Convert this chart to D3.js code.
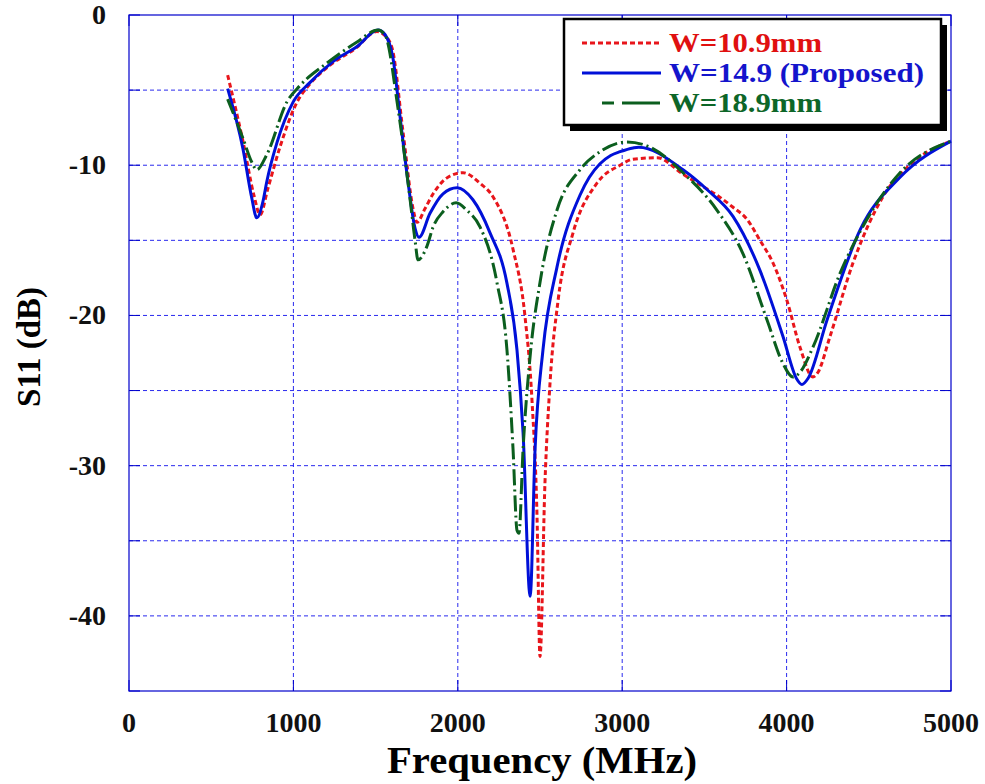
<!DOCTYPE html>
<html lang="en">
<head>
	<meta charset="UTF-8">
	<title>S11 vs Frequency</title>
	<style>
		body {
			margin: 0;
			background: #fff;
		}
		svg {
			display: block;
			font-family: "Liberation Serif", "Times New Roman", serif;
			font-weight: bold;
		}
		.grid line {
			stroke: #2a2aee;
			stroke-width: 1;
			stroke-dasharray: 4,3;
		}
		.tick-label {
			font-size: 28px;
			fill: #111;
		}
	</style>
</head>
<body>
	<svg></svg>
</body>
<script src="https://cdnjs.cloudflare.com/ajax/libs/d3/7.8.5/d3.min.js"></script>
<script>
	const width = 985,
		height = 784;
	const margin = {left: 129, right: 34, top: 15, bottom: 93};

	// tick values
	const xTicks = [0, 1000, 2000, 3000, 4000, 5000];
	const yTicks = [0, -10, -20, -30, -40];
	const yGrid = [0, -5, -10, -15, -20, -25, -30, -35, -40, -45];

	// W=10.9mm
	const redFreq = [600, 693, 760, 797, 846, 918, 1022, 1100, 1204, 1380, 1508, 1550, 1600, 1667, 1728, 1752, 1800,
		1850, 1940, 2032, 2135, 2214, 2336, 2409, 2451, 2482, 2500, 2530, 2561, 2610, 2701, 2846, 2987, 3066, 3212,
		3370, 3473, 3577, 3674, 3759, 3838, 3917, 4002, 4081, 4160, 4190, 4264, 4404, 4586, 4793, 5000];
	const redS11 = [-4.0, -8.4, -12.0, -13.3, -11.5, -8.8, -5.8, -4.6, -3.5, -2.2, -1.1, -1.3, -2.2, -7.8, -12.9, -13.8, -12.9,
		-11.9, -10.8, -10.5, -11.2, -12.1, -15.6, -20.1, -25.6, -33.4, -42.7, -31.2, -24.5, -19.0, -14.5, -11.2, -10.0, -9.6, -9.5,
		-10.6, -11.3, -12.0, -12.8, -13.6, -15.0, -16.5, -19.0, -22.1, -24.1, -23.8, -21.4, -16.5, -12.1, -9.6, -8.4];

	// W=14.9 (Proposed)
	const blueFreq = [600, 693, 747, 777, 815, 838, 900, 998, 1100, 1241, 1387, 1515, 1557, 1606, 1648, 1697, 1740, 1764,
		1831, 1910, 1995, 2092, 2196, 2298, 2360, 2397, 2440, 2470, 2518, 2603, 2743, 2800, 2865, 2930, 2987, 3066, 3100, 3370,
		3514, 3674, 3838, 3978, 4060, 4093, 4130, 4246, 4447, 4690, 5000];
	const blueS11 = [-4.9, -8.9, -12.2, -13.5, -12.4, -11.1, -8.5, -5.8, -4.5, -3.1, -2.1, -1.0, -1.3, -2.9, -6.7, -11.1, -14.2, -14.8,
		-13.2, -11.9, -11.5, -12.3, -14.5, -17.8, -22.3, -27.8, -38.7, -28.9, -22.3, -16.8, -12.0, -10.8, -9.9, -9.35, -9.1, -8.85, -8.8, -10.3,
		-11.6, -13.4, -17.0, -21.4, -24.2, -24.6, -24.2, -20.3, -14.3, -10.8, -8.4];

	// W=18.9mm
	const greenFreq = [600, 693, 747, 777, 838, 960, 1040, 1204, 1387, 1515, 1560, 1636, 1709, 1740, 1758, 1812,
		1850, 1910, 1990, 2055, 2135, 2238, 2299, 2336, 2360, 2372, 2397, 2440, 2500, 2603, 2743, 2865, 3029, 3169,
		3370, 3577, 3735, 3881, 3978, 4039, 4080, 4161, 4325, 4489, 4690, 5000];
	const greenS11 = [-5.6, -8.2, -9.8, -10.3, -9.3, -5.8, -4.7, -3.2, -1.8, -1.0, -1.4, -6.2, -12.2, -15.0, -16.3, -15.4,
		-14.1, -13.1, -12.5, -13.0, -14.1, -17.8, -22.3, -28.9, -34.3, -34.5, -28.9, -22.7, -17.8, -13.0, -10.3, -9.1, -8.45, -8.8,
		-10.5, -13.0, -15.9, -20.3, -23.2, -24.1, -23.8, -22.1, -17.2, -13.6, -10.5, -8.4];

	const seriesNames = ['W=10.9mm', 'W=14.9 (Proposed)', 'W=18.9mm'];

	const series = [
		{name: seriesNames[0], freq: redFreq, s11: redS11, color: '#e8151b', text: '#e01010', dash: '5,3', width: 3},
		{name: seriesNames[1], freq: blueFreq, s11: blueS11, color: '#0010d8', text: '#1414cc', dash: null, width: 3},
		{name: seriesNames[2], freq: greenFreq, s11: greenS11, color: '#0b5e1e', text: '#0d6628', dash: '16,4,2,4', width: 3}
	];

	const svg = d3.select('svg')
		.attr('width', width)
		.attr('height', height);

	const x = d3.scaleLinear().domain([0, 5000]).range([margin.left, width - margin.right]);
	const y = d3.scaleLinear().domain([0, -45]).range([margin.top, height - margin.bottom]);

	// grid
	const grid = svg.append('g').attr('class', 'grid');
	grid.selectAll('.vg')
		.data(xTicks.slice(1, -1))
		.enter().append('line')
		.attr('x1', d => x(d)).attr('x2', d => x(d))
		.attr('y1', y(0)).attr('y2', y(-45));
	grid.selectAll('.hg')
		.data(yGrid.slice(1, -1))
		.enter().append('line')
		.attr('x1', x(0)).attr('x2', x(5000))
		.attr('y1', d => y(d)).attr('y2', d => y(d));

	// inner ticks
	const ticks = svg.append('g').attr('stroke', '#0000cc').attr('stroke-width', 1);
	yGrid.forEach(v => {
		ticks.append('line').attr('x1', x(0)).attr('x2', x(0) + 11).attr('y1', y(v)).attr('y2', y(v));
		ticks.append('line').attr('x1', x(5000)).attr('x2', x(5000) - 11).attr('y1', y(v)).attr('y2', y(v));
	});
	xTicks.forEach(v => {
		ticks.append('line').attr('x1', x(v)).attr('x2', x(v)).attr('y1', y(-45)).attr('y2', y(-45) - 11);
		ticks.append('line').attr('x1', x(v)).attr('x2', x(v)).attr('y1', y(0)).attr('y2', y(0) + 11);
	});

	// frame
	svg.append('rect')
		.attr('x', x(0)).attr('y', y(0))
		.attr('width', x(5000) - x(0)).attr('height', y(-45) - y(0))
		.attr('fill', 'none').attr('stroke', '#0000cc').attr('stroke-width', 1.2);

	// curves
	const line = d3.line()
		.x(d => x(d[0]))
		.y(d => y(d[1]))
		.curve(d3.curveMonotoneX);

	svg.selectAll('.curve')
		.data(series)
		.enter().append('path')
		.attr('class', 'curve')
		.attr('d', s => line(s.freq.map((f, i) => [f, s.s11[i]])))
		.attr('fill', 'none')
		.attr('stroke', s => s.color)
		.attr('stroke-width', s => s.width)
		.attr('stroke-dasharray', s => s.dash)
		.attr('stroke-linejoin', 'round');

	// tick labels
	svg.selectAll('.xl')
		.data(xTicks)
		.enter().append('text')
		.attr('class', 'tick-label')
		.attr('x', d => x(d))
		.attr('y', 732)
		.attr('text-anchor', 'middle')
		.text(d => d);
	svg.selectAll('.yl')
		.data(yTicks)
		.enter().append('text')
		.attr('class', 'tick-label')
		.attr('x', 106)
		.attr('y', d => y(d) + 9)
		.attr('text-anchor', 'end')
		.text(d => d);

	// axis titles
	svg.append('text')
		.attr('x', 542).attr('y', 773)
		.attr('text-anchor', 'middle')
		.attr('font-size', 37)
		.attr('textLength', 310)
		.attr('lengthAdjust', 'spacingAndGlyphs')
		.text('Frequency (MHz)');
	svg.append('text')
		.attr('transform', 'translate(40,347) rotate(-90)')
		.attr('text-anchor', 'middle')
		.attr('font-size', 33)
		.text('S11 (dB)');

	// legend
	const lg = svg.append('g');
	lg.append('rect').attr('x', 570).attr('y', 25).attr('width', 377).attr('height', 106).attr('fill', '#000');
	lg.append('rect').attr('x', 564).attr('y', 19).attr('width', 377).attr('height', 106)
		.attr('fill', '#fff').attr('stroke', '#000').attr('stroke-width', 2.5);
	const legY = [43, 73, 103];
	const legX1 = [582, 582, 602];
	const legLen = [153, 255, 153];
	series.forEach((s, i) => {
		lg.append('line')
			.attr('x1', legX1[i]).attr('x2', 661)
			.attr('y1', legY[i]).attr('y2', legY[i])
			.attr('stroke', s.color).attr('stroke-width', 3)
			.attr('stroke-dasharray', i === 2 ? '12,8,38' : s.dash);
		lg.append('text')
			.attr('x', 669).attr('y', legY[i] + 9)
			.attr('font-size', 27)
			.attr('fill', s.text)
			.attr('textLength', legLen[i])
			.attr('lengthAdjust', 'spacingAndGlyphs')
			.text(s.name);
	});
</script>
</html>
